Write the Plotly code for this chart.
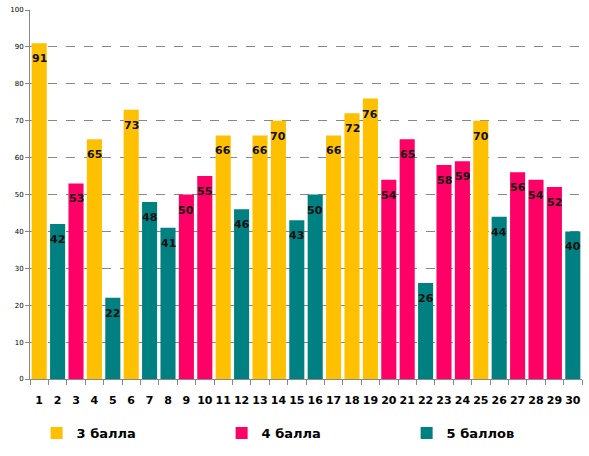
import plotly.graph_objects as go

numbers = list(range(1, 31))
values = [91, 42, 53, 65, 22, 73, 48, 41, 50, 55, 66, 46, 66, 70, 43,
          50, 66, 72, 76, 54, 65, 26, 58, 59, 70, 44, 56, 54, 52, 40]
grades = [3, 5, 4, 3, 5, 3, 5, 5, 4, 4, 3, 5, 3, 3, 5,
          5, 3, 3, 3, 4, 4, 5, 4, 4, 3, 5, 4, 4, 4, 5]
grade_names = {3: "3 балла", 4: "4 балла", 5: "5 баллов"}
grade_colors = {3: "#FFC000", 4: "#FF0066", 5: "#008080"}

fig = go.Figure()
for g in (3, 4, 5):
    xs = [n for n, gr in zip(numbers, grades) if gr == g]
    ys = [v for v, gr in zip(values, grades) if gr == g]
    fig.add_trace(go.Bar(x=xs, y=ys, name=grade_names[g],
                         marker=dict(color=grade_colors[g], line=dict(width=0)),
                         width=0.82, hoverinfo="x+y"))

for n, v in zip(numbers, values):
    fig.add_annotation(x=n, y=v, text=str(v), showarrow=False,
                       yanchor="top", yshift=-7,
                       font=dict(family="DejaVu Sans", size=11, color="#111111", weight="bold"))

fig.update_layout(
    width=589, height=456,
    margin=dict(l=30, r=7, t=10, b=77, autoexpand=False),
    paper_bgcolor="white", plot_bgcolor="white",
    barmode="overlay",
    font=dict(family="DejaVu Sans", color="black"),
    showlegend=True,
    legend=dict(orientation="h", x=0.012, xanchor="left", y=-0.106, yanchor="top",
                entrywidth=140, entrywidthmode="pixels",
                font=dict(family="DejaVu Sans", size=13, weight="bold", color="black"),
                traceorder="normal"),
    xaxis=dict(range=[0.5, 30.5], tickmode="array", tickvals=numbers,
               ticktext=[str(n) for n in numbers], tickangle=0, automargin=False,
               showline=True, linecolor="#888888", linewidth=1,
               ticks="",
               minor=dict(tickmode="array", tickvals=[n + 0.5 for n in range(0, 31)],
                          ticks="outside", ticklen=5, tickcolor="#888888", showgrid=False),
               tickfont=dict(family="DejaVu Sans", size=11, weight="bold", color="black"),
               ticklabelstandoff=11, showgrid=False, zeroline=False),
    yaxis=dict(range=[0, 100], dtick=10, automargin=False,
               showline=True, linecolor="#888888", linewidth=1,
               ticks="outside", ticklen=4, tickcolor="#888888",
               tickfont=dict(family="DejaVu Sans", size=7, color="black"),
               showgrid=True, gridcolor="#888888", griddash="dash", gridwidth=1,
               zeroline=False),
)

fig.write_html("out.html", config={"displayModeBar": False},
               post_script="document.body.style.margin='0';")
